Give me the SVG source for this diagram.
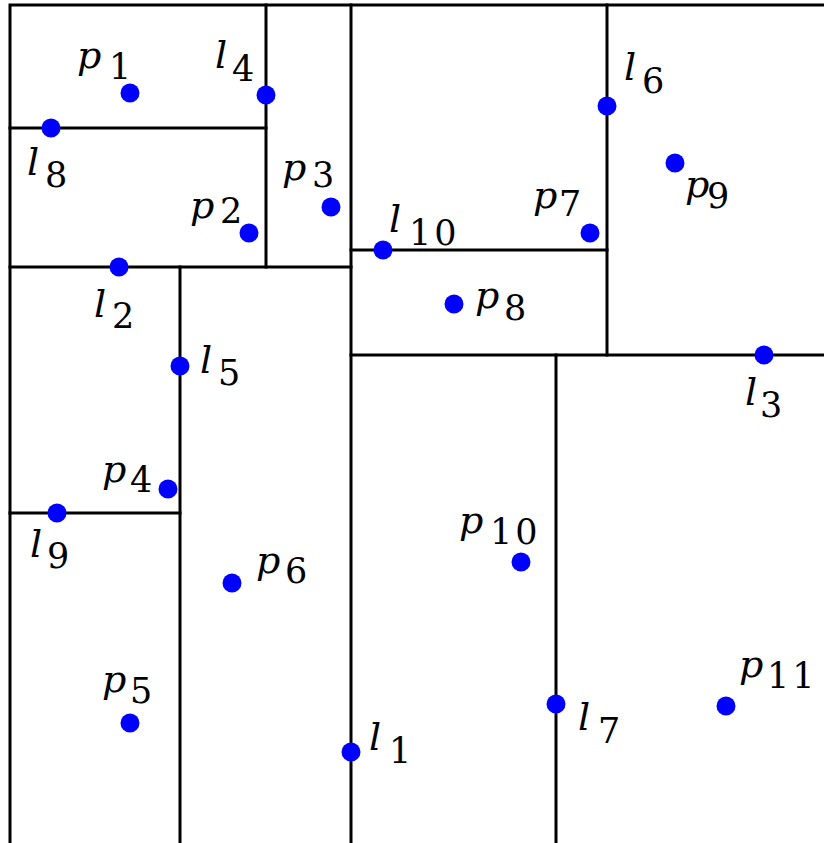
<svg xmlns="http://www.w3.org/2000/svg" width="824" height="843" viewBox="0 0 824 843">
<style>
.ln{stroke:#000;stroke-width:3;fill:none;stroke-linecap:square}
.pt{fill:#0000ff}
.v{font-family:"DejaVu Serif",serif;font-style:italic;font-size:38px;fill:#000}
.s{font-family:"DejaVu Serif",serif;font-style:normal;font-size:35px;fill:#000;letter-spacing:3px}
</style>
<rect width="824" height="843" fill="#fff"/>
<g id="lines">
<path class="ln" d="M10,843 V5 H826"/>
<path class="ln" d="M351,5 V845"/>
<path class="ln" d="M10,267 H351"/>
<path class="ln" d="M351,355 H826"/>
<path class="ln" d="M266,5 V267"/>
<path class="ln" d="M180,267 V845"/>
<path class="ln" d="M607,5 V355"/>
<path class="ln" d="M556,355 V845"/>
<path class="ln" d="M10,128 H266"/>
<path class="ln" d="M10,513 H180"/>
<path class="ln" d="M351,250 H607"/>
</g>
<g id="p1"><circle class="pt" cx="130" cy="93" r="9.5"/><text class="v" x="77" y="68">p<tspan class="s" x="109" y="79">1</tspan></text></g>
<g id="p2"><circle class="pt" cx="249" cy="233" r="9.5"/><text class="v" x="190" y="218">p<tspan class="s" x="220" y="223">2</tspan></text></g>
<g id="p3"><circle class="pt" cx="331" cy="207" r="9.5"/><text class="v" x="282" y="180">p<tspan class="s" x="312" y="187">3</tspan></text></g>
<g id="p4"><circle class="pt" cx="168" cy="489" r="9.5"/><text class="v" x="102" y="482">p<tspan class="s" x="130" y="492">4</tspan></text></g>
<g id="p5"><circle class="pt" cx="130" cy="723" r="9.5"/><text class="v" x="102" y="692">p<tspan class="s" x="130" y="703">5</tspan></text></g>
<g id="p6"><circle class="pt" cx="232" cy="583" r="9.5"/><text class="v" x="256" y="573">p<tspan class="s" x="285" y="583">6</tspan></text></g>
<g id="p7"><circle class="pt" cx="590" cy="233" r="9.5"/><text class="v" x="533" y="208">p<tspan class="s" x="559" y="216">7</tspan></text></g>
<g id="p8"><circle class="pt" cx="454" cy="304" r="9.5"/><text class="v" x="475" y="308">p<tspan class="s" x="504" y="320">8</tspan></text></g>
<g id="p9"><circle class="pt" cx="675" cy="163" r="9.5"/><text class="v" x="685" y="197">p<tspan class="s" x="707" y="208">9</tspan></text></g>
<g id="p10"><circle class="pt" cx="521" cy="562" r="9.5"/><text class="v" x="459" y="533">p<tspan class="s" x="490" y="544">10</tspan></text></g>
<g id="p11"><circle class="pt" cx="726" cy="706" r="9.5"/><text class="v" x="739" y="677">p<tspan class="s" x="767" y="688">11</tspan></text></g>
<g id="l1"><circle class="pt" cx="351" cy="752" r="9.5"/><text class="v" x="369" y="750">l<tspan class="s" x="389" y="763">1</tspan></text></g>
<g id="l2"><circle class="pt" cx="119" cy="267" r="9.5"/><text class="v" x="94" y="317">l<tspan class="s" x="112" y="328">2</tspan></text></g>
<g id="l3"><circle class="pt" cx="764" cy="355" r="9.5"/><text class="v" x="745" y="405">l<tspan class="s" x="760" y="417">3</tspan></text></g>
<g id="l4"><circle class="pt" cx="266" cy="95" r="9.5"/><text class="v" x="215" y="68">l<tspan class="s" x="232" y="81">4</tspan></text></g>
<g id="l5"><circle class="pt" cx="180" cy="366" r="9.5"/><text class="v" x="200" y="373">l<tspan class="s" x="218" y="385">5</tspan></text></g>
<g id="l6"><circle class="pt" cx="607" cy="106" r="9.5"/><text class="v" x="624" y="80">l<tspan class="s" x="642" y="93">6</tspan></text></g>
<g id="l7"><circle class="pt" cx="556" cy="704" r="9.5"/><text class="v" x="578" y="730">l<tspan class="s" x="598" y="743">7</tspan></text></g>
<g id="l8"><circle class="pt" cx="51" cy="128" r="9.5"/><text class="v" x="27" y="175">l<tspan class="s" x="45" y="187">8</tspan></text></g>
<g id="l9"><circle class="pt" cx="57" cy="513" r="9.5"/><text class="v" x="30" y="557">l<tspan class="s" x="47" y="568">9</tspan></text></g>
<g id="l10"><circle class="pt" cx="383" cy="250" r="9.5"/><text class="v" x="389" y="232">l<tspan class="s" x="409" y="245">10</tspan></text></g>
</svg>
